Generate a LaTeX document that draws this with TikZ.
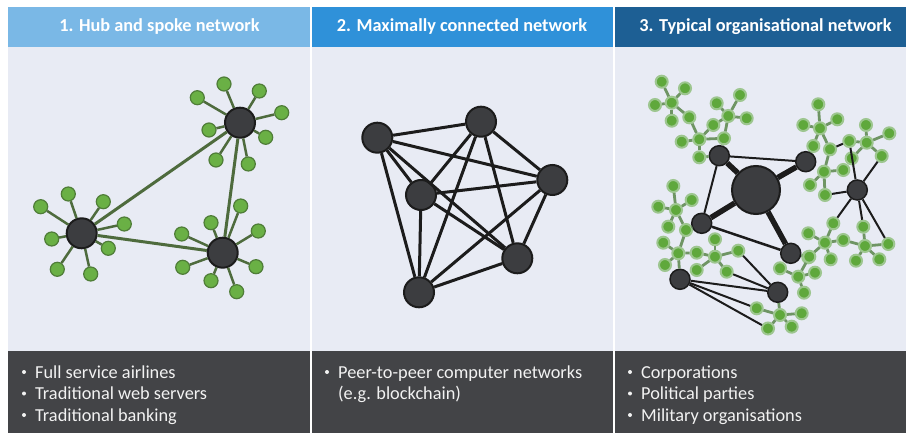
\documentclass[tikz,border=0pt]{standalone}
\usepackage{fontspec}
\setmainfont{Carlito}
\definecolor{hdrA}{HTML}{7AB8E6}
\definecolor{hdrB}{HTML}{2F91D9}
\definecolor{hdrC}{HTML}{1D5F94}
\definecolor{panelbg}{HTML}{E8EBF4}
\definecolor{footbg}{HTML}{434447}
\definecolor{foottext}{HTML}{F2F2F2}
\definecolor{nodedark}{HTML}{3C3D40}
\definecolor{nodeedge}{HTML}{1C1C1C}
\definecolor{leafgreen}{HTML}{6AB045}
\definecolor{leafedge}{HTML}{4F7D38}
\definecolor{spokegreen}{HTML}{4E6B3D}
\definecolor{clgreen}{HTML}{5FA83C}
\definecolor{clspokecol}{HTML}{5A864A}
\begin{document}
\begin{tikzpicture}[x=1pt,y=-1pt,
  hdrtext/.style={text=white,font=\bfseries\fontsize{18.3}{21}\selectfont,inner sep=0pt},
  foot/.style={text=foottext,font=\fontsize{18.3}{21}\selectfont,anchor=base west,inner sep=0pt},
  dot/.style={circle,fill=foottext,minimum size=4pt,inner sep=0pt},
  hub/.style={circle,fill=nodedark,draw=nodeedge,line width=2pt,minimum size=30pt,inner sep=0pt},
  leaf/.style={circle,fill=leafgreen,draw=leafedge,line width=1.2pt,minimum size=14pt,inner sep=0pt},
  spoke/.style={draw=spokegreen,line width=2.5pt},
  trunk/.style={draw=spokegreen,line width=3pt},
  peer/.style={circle,fill=nodedark,draw=nodeedge,line width=2pt,minimum size=30pt,inner sep=0pt},
  peerlink/.style={draw=nodeedge,line width=3pt},
  boss/.style={circle,fill=nodedark,draw=nodeedge,line width=2pt,minimum size=48pt,inner sep=0pt},
  unit/.style={circle,fill=nodedark,draw=nodeedge,line width=1.5pt,minimum size=20pt,inner sep=0pt},
  cl/.style={circle,fill=clgreen,draw=clgreen!55!panelbg,line width=2pt,minimum size=12pt,inner sep=0pt},
  clspoke/.style={draw=clspokecol!85!panelbg,line width=2.8pt},
  strong/.style={draw=nodeedge,line width=5.5pt},
  tie/.style={draw=nodeedge,line width=2pt}]
\useasboundingbox (0,0) rectangle (906,433);
\fill[white] (0,0) rectangle (906,433);

% ---- panel backgrounds ----
\fill[panelbg] (8,47) rectangle (310,351);
\fill[panelbg] (311.5,47) rectangle (613,351);
\fill[panelbg] (614.5,47) rectangle (906,351);
\fill[hdrA] (8,7) rectangle (310,47);
\fill[hdrB] (311.5,7) rectangle (613,47);
\fill[hdrC] (614.5,7) rectangle (906,47);
\fill[footbg] (8,351) rectangle (310,433);
\fill[footbg] (311.5,351) rectangle (613,433);
\fill[footbg] (614.5,351) rectangle (906,433);

% ---- headers ----
\node[hdrtext] (t1) at (159.5,27) {1. Hub and spoke network};
\node[hdrtext] (t2) at (462,27) {2. Maximally connected network};
\node[hdrtext] (t3) at (765.5,27) {3. Typical organisational network};

% ---- footers ----
\node[dot] (b1a) at (24,372) {};
\node[foot] (f1a) at (35,378) {Full service airlines};
\node[dot] (b1b) at (24,393.5) {};
\node[foot] (f1b) at (35,399.5) {Traditional web servers};
\node[dot] (b1c) at (24,415) {};
\node[foot] (f1c) at (35,421) {Traditional banking};
\node[dot] (b2a) at (327,372) {};
\node[foot] (f2a) at (338,378) {Peer-to-peer computer networks};
\node[foot] (f2b) at (338,399.5) {(e.g. blockchain)};
\node[dot] (b3a) at (630,372) {};
\node[foot] (f3a) at (641,378) {Corporations};
\node[dot] (b3b) at (630,393.5) {};
\node[foot] (f3b) at (641,399.5) {Political parties};
\node[dot] (b3c) at (630,415) {};
\node[foot] (f3c) at (641,421) {Military organisations};

% ---- 1. hub and spoke ----
\node[hub] (hA) at (240,122.7) {};
\node[hub] (hB) at (81.7,233.3) {};
\node[hub] (hC) at (222.7,252.7) {};
\foreach \x/\y [count=\i] in {224/84,259.3/91,281.7/112.7,265.7/137.3,248.3/164,216/160,209/130,197.3/97.7}{
  \node[leaf] (hA\i) at (\x,\y) {};
  \draw[spoke] (hA) -- (hA\i);
}
\foreach \x/\y [count=\i] in {68.3/194,103.3/201.7,124.3/224,108.3/248.3,90.7/274,57.3/269.3,51.7/239,40.7/206.7}{
  \node[leaf] (hB\i) at (\x,\y) {};
  \draw[spoke] (hB) -- (hB\i);
}
\foreach \x/\y [count=\i] in {240.7/206,258.3/231,256/266.7,236.7/291.7,211/280.7,182.7/267.3,181.7/234,211/222.7}{
  \node[leaf] (hC\i) at (\x,\y) {};
  \draw[spoke] (hC) -- (hC\i);
}
\draw[trunk] (hA) -- (hB);
\draw[trunk] (hA) -- (hC);
\draw[trunk] (hB) -- (hC);

% ---- 2. fully connected ----
\node[peer] (p1) at (377.3,137.7) {};
\node[peer] (p2) at (481,121.7) {};
\node[peer] (p3) at (552.3,180) {};
\node[peer] (p4) at (421,195) {};
\node[peer] (p5) at (517.3,258.3) {};
\node[peer] (p6) at (419,292.3) {};
\foreach \a/\b in {1/2,1/3,1/4,1/5,1/6,2/3,2/4,2/5,2/6,3/4,3/5,3/6,4/5,4/6,5/6}
  \draw[peerlink] (p\a) -- (p\b);

% ---- 3. organisational network ----
% green clusters
\node[cl] (ca) at (671.7,102.7) {};
\foreach \x/\y [count=\i] in {661.7/81.7,685/88.3,655/105,671.7/120.7}{
  \node[cl] (ca\i) at (\x,\y) {}; \draw[clspoke] (ca) -- (ca\i);}
\node[cl] (cc) at (699.3,139.3) {};
\foreach \x/\y [count=\i] in {689.3/117.3,681.7/141.7,699.3/157.3,713.3/125,724/138.3}{
  \node[cl] (cc\i) at (\x,\y) {}; \draw[clspoke] (cc) -- (cc\i);}
\draw[clspoke] (ca) -- (cc1);
\node[cl] (cb) at (728.3,116) {};
\foreach \x/\y [count=\i] in {716.7/103.3,740/95,746.7/118.3}{
  \node[cl] (cb\i) at (\x,\y) {}; \draw[clspoke] (cb) -- (cb\i);}
\draw[clspoke] (cb) -- (cc4);
\draw[clspoke] (cb) -- (cc5);
\node[cl] (cd) at (820,128.3) {};
\foreach \x/\y [count=\i] in {818.3/104.3,837.3/119.3,803.3/125,813.3/146}{
  \node[cl] (cd\i) at (\x,\y) {}; \draw[clspoke] (cd) -- (cd\i);}
\node[cl] (ce) at (824,171.7) {};
\foreach \x/\y [count=\i] in {830/149.3,843.3/170,810/185,825/195}{
  \node[cl] (ce\i) at (\x,\y) {}; \draw[clspoke] (ce) -- (ce\i);}
\draw[clspoke] (cd) -- (ce1);
\node[cl] (cf) at (866.7,142.7) {};
\foreach \x/\y [count=\i] in {866/125,889.3/133.3,881.7/156,851.7/158.3,849.3/141}{
  \node[cl] (cf\i) at (\x,\y) {}; \draw[clspoke] (cf) -- (cf\i);}
\node[cl] (cg) at (676,210) {};
\foreach \x/\y [count=\i] in {673.3/186,691.7/200,658.3/206.7,668.3/226.7,686/230}{
  \node[cl] (cg\i) at (\x,\y) {}; \draw[clspoke] (cg) -- (cg\i);}
\node[cl] (ch) at (678.3,253.3) {};
\foreach \x/\y [count=\i] in {663.3/242.7,696.7/252.7,665/265}{
  \node[cl] (ch\i) at (\x,\y) {}; \draw[clspoke] (ch) -- (ch\i);}
\draw[clspoke] (ch) -- (cg5);
\node[cl] (ci) at (715,256.7) {};
\foreach \x/\y [count=\i] in {715/239.3,738.3/250.7,726.7/271.7,696.7/270}{
  \node[cl] (ci\i) at (\x,\y) {}; \draw[clspoke] (ci) -- (ci\i);}
\draw[clspoke] (ci) -- (ch2);
\node[cl] (cj) at (825,242.7) {};
\foreach \x/\y [count=\i] in {833.3/223.3,808.3/233.3,808.3/257.3,830.7/259.3,843.3/240}{
  \node[cl] (cj\i) at (\x,\y) {}; \draw[clspoke] (cj) -- (cj\i);}
\node[cl] (ck) at (865,246) {};
\foreach \x/\y [count=\i] in {863.3/226.7,888.3/244,879.3/259.3,856/260.7}{
  \node[cl] (ck\i) at (\x,\y) {}; \draw[clspoke] (ck) -- (ck\i);}
\draw[clspoke] (ck) -- (cj5);
\node[cl] (cl0) at (798.3,276.7) {};
\foreach \x/\y [count=\i] in {780/268.3,815/272.7,804/292.7,809.3/256.7}{
  \node[cl] (cl\i) at (\x,\y) {}; \draw[clspoke] (cl0) -- (cl\i);}
\node[cl] (cm) at (780,315) {};
\foreach \x/\y [count=\i] in {756.7/308.3,801.7/313.3,791.7/326.7,768/328.5}{
  \node[cl] (cm\i) at (\x,\y) {}; \draw[clspoke] (cm) -- (cm\i);}

% dark nodes
\node[boss] (g0) at (756,190) {};
\node[unit] (n1) at (719.3,155.7) {};
\node[unit] (n2) at (805.7,161.7) {};
\node[unit] (n3) at (701.7,223.3) {};
\node[unit] (n4) at (790.7,253.3) {};
\node[unit] (n5) at (857.3,190) {};
\node[unit] (n6) at (680,279.3) {};
\node[unit] (n7) at (777.7,292.3) {};

% green ties from units to clusters
\draw[clspoke] (n1) -- (cc3);
\draw[clspoke] (n1) -- (cc5);
\draw[clspoke] (n3) -- (cg5);
\draw[clspoke] (n6) -- (ch);
\draw[clspoke] (n4) -- (cl4);
\draw[clspoke] (n7) -- (cm);
\draw[clspoke] (n2) -- (cd4);

% dark links
\draw[strong] (g0) -- (n1);
\draw[strong] (g0) -- (n2);
\draw[strong] (g0) -- (n3);
\draw[strong] (g0) -- (n4);
\draw[tie] (n1) -- (n2);
\draw[tie] (n1) -- (n3);
\draw[tie,line width=2.5pt] (n3) -- (n4);
\draw[tie] (n5) -- (cf5);
\draw[tie] (n5) -- (cf3);
\draw[tie] (ce1) -- (cf5);
\draw[tie] (n5) -- (ce4);
\draw[tie] (n5) -- (cj1);
\draw[tie] (n5) -- (ck1);
\draw[tie] (n5) -- (ck2);
\draw[tie] (n6) -- (n7);
\draw[tie] (n6) -- (cm1);
\draw[tie] (n6) -- (cm4);
\draw[tie] (n7) -- (ci2);
\draw[tie] (n7) -- (ci3);
\end{tikzpicture}
\end{document}
